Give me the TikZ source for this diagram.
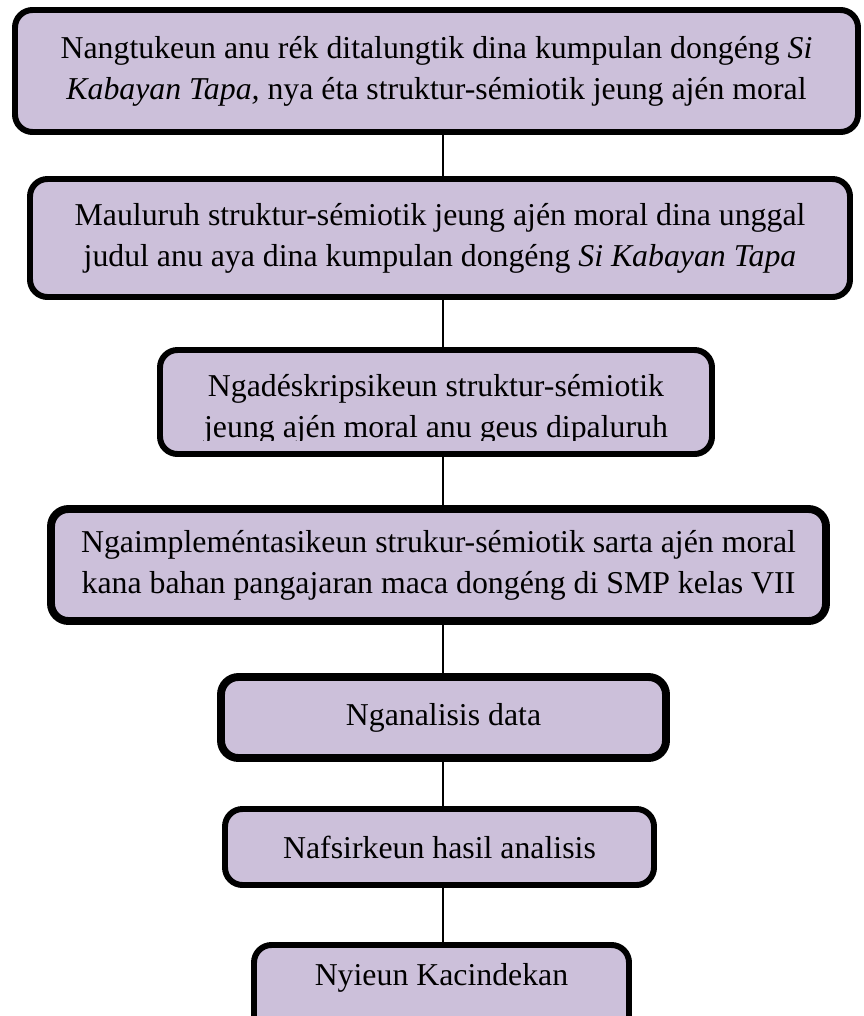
\documentclass[tikz,border=0pt]{standalone}
\usepackage{fontspec}
\setmainfont{Liberation Serif}
\definecolor{lilac}{RGB}{204,192,218}

\begin{document}
\begin{tikzpicture}[box/.style={draw, fill=lilac, line width=3.4pt, rounded corners=0.35cm, align=center, font=\fontsize{18.1}{23.3}\selectfont},
  heavy/.style={line width=4.5pt}, link/.style={line width=0.8pt}]
\useasboundingbox (0,0) rectangle (17.26,-20.32);
\clip (0,0) rectangle (17.26,-20.32);
\coordinate (spine) at (8.86,0);
\node[box, minimum width=16.86cm, minimum height=2.44cm] (b1) at (8.73,-1.42) {Nangtukeun anu rék ditalungtik dina kumpulan dongéng \textit{Si}\\ \textit{Kabayan Tapa,} nya éta struktur-sémiotik jeung ajén moral};
\node[box, minimum width=16.40cm, minimum height=2.36cm] (b2) at (8.80,-4.76) {Mauluruh struktur-sémiotik jeung ajén moral dina unggal\\ judul anu aya dina kumpulan dongéng \textit{Si Kabayan Tapa}};
\node[box, minimum width=11.04cm, minimum height=2.08cm] (b3) at (8.72,-8.04) {};
\begin{scope}
\clip (b3.north west) rectangle ([yshift=0.32cm]b3.south east);
\node[align=center, font=\fontsize{18.1}{23.3}\selectfont] (t3) at ([yshift=-0.14cm]b3.center) {Ngadéskripsikeun struktur-sémiotik\\ jeung ajén moral anu geus dipaluruh};
\end{scope}
\node[box, heavy, minimum width=15.50cm, minimum height=2.24cm] (b4) at (8.77,-11.30) {Ngaimpleméntasikeun strukur-sémiotik sarta ajén moral\\ kana bahan pangajaran maca dongéng di SMP kelas VII};
\node[box, heavy, minimum width=8.90cm, minimum height=1.62cm] (b5) at (8.87,-14.35) {Nganalisis data};
\node[box, minimum width=8.58cm, minimum height=1.52cm] (b6) at (8.79,-16.94) {Nafsirkeun hasil analisis};
\node[box, minimum width=7.50cm, minimum height=2.00cm, text height=0.42cm, text depth=0.80cm] (b7) at (8.83,-19.90) {Nyieun Kacindekan};
\foreach \a/\b in {b1/b2, b2/b3, b3/b4, b4/b5, b5/b6, b6/b7} { \draw[link] (\a.south -| spine) -- (\b.north -| spine); };
\end{tikzpicture}
\end{document}
